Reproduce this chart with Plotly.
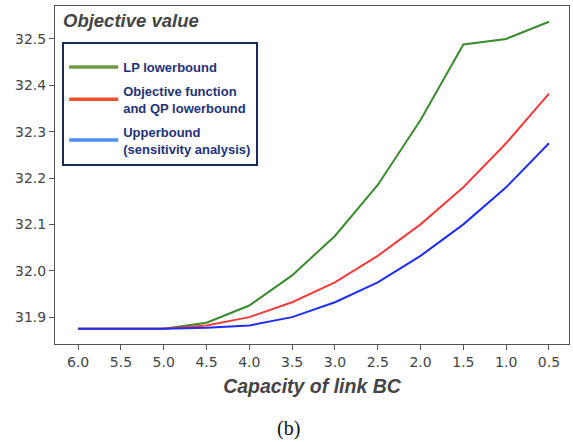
import plotly.graph_objects as go

capacity = [6.0, 5.5, 5.0, 4.5, 4.0, 3.5, 3.0, 2.5, 2.0, 1.5, 1.0, 0.5]
lp_lower = [31.875, 31.875, 31.875, 31.888, 31.925, 31.99, 32.075, 32.185, 32.325, 32.488, 32.50, 32.537]
qp_lower = [31.875, 31.875, 31.875, 31.882, 31.90, 31.932, 31.975, 32.032, 32.10, 32.18, 32.275, 32.382]
upper = [31.875, 31.875, 31.875, 31.877, 31.882, 31.90, 31.932, 31.975, 32.032, 32.10, 32.18, 32.275]
y_ticks = [31.9, 32.0, 32.1, 32.2, 32.3, 32.4, 32.5]

legend_names = ["<b>LP lowerbound</b>", "<b>Objective function<br>and QP lowerbound</b>",
                "<b>Upperbound<br>(sensitivity analysis)</b>"]
line_colors = ["#3a8a2e", "#f03c3c", "#1f2ef5"]
legend_colors = ["#6b9a40", "#f0522e", "#4d8cf5"]

fig = go.Figure()
for ys, c in zip([lp_lower, qp_lower, upper], line_colors):
    fig.add_trace(go.Scatter(x=capacity, y=ys, mode="lines", line=dict(color=c, width=2),
                             showlegend=False))
for i, (name, c) in enumerate(zip(legend_names, legend_colors)):
    fig.add_trace(go.Scatter(x=[None], y=[None], mode="lines", name=name, legendgroup=f"g{i}",
                             line=dict(color=c, width=3.5)))

axis_common = dict(showline=True, linecolor="#555555", linewidth=1, mirror=True,
                   ticks="outside", ticklen=5, tickcolor="#555555", showgrid=False,
                   zeroline=False, automargin=False,
                   tickfont=dict(family="DejaVu Sans", size=14, color="#444444"))

fig.update_layout(
    width=573, height=442,
    margin=dict(l=55, r=4, t=6, b=98),
    paper_bgcolor="white", plot_bgcolor="white",
    xaxis=dict(range=[6.27, 0.266], tickvals=capacity, tickformat=".1f",
               title=dict(text="<b><i>Capacity of link BC</i></b>", standoff=10,
                          font=dict(family="Liberation Sans", size=19.5, color="#444444")),
               **axis_common),
    yaxis=dict(range=[31.842, 32.571], tickvals=y_ticks, tickformat=".1f", **axis_common),
    legend=dict(x=0.014, y=0.893, xanchor="left", yanchor="top",
                bgcolor="white", bordercolor="#1a2a5c", borderwidth=2,
                font=dict(family="Liberation Sans", size=13, color="#1f3278"),
                itemwidth=49, tracegroupgap=4,
                title=dict(text=" ", font=dict(size=6))),
    annotations=[
        dict(text="<b><i>Objective value</i></b>", xref="paper", yref="paper",
             x=0.012, y=0.995, xanchor="left", yanchor="top", showarrow=False,
             font=dict(family="Liberation Sans", size=18.5, color="#444444")),
        dict(text="(b)", xref="paper", yref="paper", x=0.455, y=-0.249, xanchor="center",
             yanchor="middle", showarrow=False,
             font=dict(family="Liberation Serif", size=20, color="#111111")),
    ],
)

fig.write_html("out.html", config={"displayModeBar": False},
               post_script="document.body.style.margin='0';")
